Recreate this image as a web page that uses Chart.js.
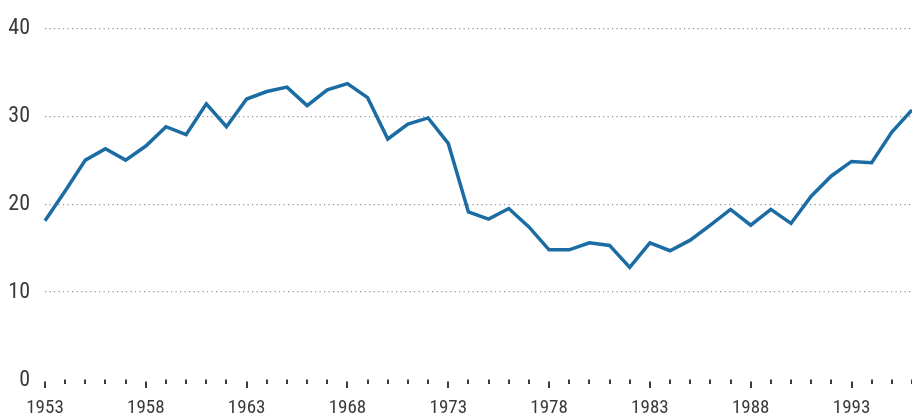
<!DOCTYPE html>
<html>
<head>
<meta charset="utf-8">
<script src="https://cdn.jsdelivr.net/npm/chart.js@4"></script>
<style>
  html, body { margin: 0; padding: 0; background: #fff; }
  #wrap { width: 912px; height: 413px; }
</style>
</head>
<body>
<div id="wrap"><canvas id="c" width="912" height="413"></canvas></div>
<script>
const years = [];
for (let y = 1953; y <= 1996; y++) years.push(String(y));

const values = [
  18.1, 21.5, 25.0, 26.3, 25.0, 26.6, 28.8, 27.9, 31.4, 28.8,
  31.95, 32.8, 33.3, 31.2, 33.0, 33.7, 32.1, 27.4, 29.1, 29.8,
  26.9, 19.1, 18.3, 19.5, 17.4, 14.8, 14.8, 15.6, 15.3, 12.8,
  15.6, 14.7, 15.9, 17.6, 19.4, 17.6, 19.4, 17.8, 20.9, 23.2,
  24.85, 24.7, 28.2, 30.7
];

const labeledYears = ['1953','1958','1963','1968','1973','1978','1983','1988','1993'];
const yTicks = [0, 10, 20, 30, 40];
const FONT = '"Roboto Condensed", "Liberation Sans Narrow", "DejaVu Sans Condensed", sans-serif';

const tickPlugin = {
  id: 'yearTicks',
  afterDraw(chart) {
    const x = chart.scales.x;
    const bottom = chart.chartArea.bottom;
    const ctx = chart.ctx;
    ctx.save();
    ctx.strokeStyle = '#3a3a3a';
    ctx.lineWidth = 2;
    for (let i = 0; i < years.length; i++) {
      const px = Math.round(x.getPixelForTick(i));
      const major = labeledYears.includes(years[i]);
      ctx.beginPath();
      if (major) { ctx.moveTo(px, bottom + 1.5); ctx.lineTo(px, bottom + 8); }
      else { ctx.moveTo(px, bottom - 0.5); ctx.lineTo(px, bottom + 4); }
      ctx.stroke();
    }
    ctx.restore();
  }
};

new Chart(document.getElementById('c'), {
  type: 'line',
  data: {
    labels: years,
    datasets: [{
      data: values,
      borderColor: '#1b6ca3',
      borderWidth: 3.5,
      pointRadius: 0,
      tension: 0,
      fill: false,
      clip: false
    }]
  },
  options: {
    responsive: false,
    animation: false,
    devicePixelRatio: 1,
    layout: { padding: { top: 23, right: 0, left: 0, bottom: 0 } },
    plugins: { legend: { display: false }, tooltip: { enabled: false } },
    scales: {
      x: {
        type: 'category',
        offset: false,
        border: { display: false },
        grid: {
          display: true,
          drawOnChartArea: false,
          drawTicks: true,
          tickLength: 17,
          tickColor: 'rgba(0,0,0,0)',
          color: 'rgba(0,0,0,0)'
        },
        ticks: {
          autoSkip: false,
          maxRotation: 0,
          minRotation: 0,
          padding: 0,
          color: '#3a3a3a',
          font: { family: FONT, size: 19 },
          callback: function(v, i) { const l = years[i]; return labeledYears.includes(l) ? l : ''; }
        },
        afterFit: function(s) { s.height = 33; }
      },
      y: {
        min: 0,
        max: 40,
        border: { display: false, dash: [1.2, 3.3] },
        grid: {
          drawTicks: false,
          color: function(c) { return c.tick && c.tick.value === 0 ? 'rgba(0,0,0,0)' : '#939393'; },
          lineWidth: 1.2
        },
        ticks: {
          stepSize: 10,
          padding: 15,
          color: '#3a3a3a',
          font: { family: FONT, size: 22 },
          callback: function(v) { return yTicks.includes(v) ? String(v) : ''; }
        },
        afterFit: function(s) { s.width = 45; }
      }
    }
  },
  plugins: [tickPlugin]
});
</script>
</body>
</html>
